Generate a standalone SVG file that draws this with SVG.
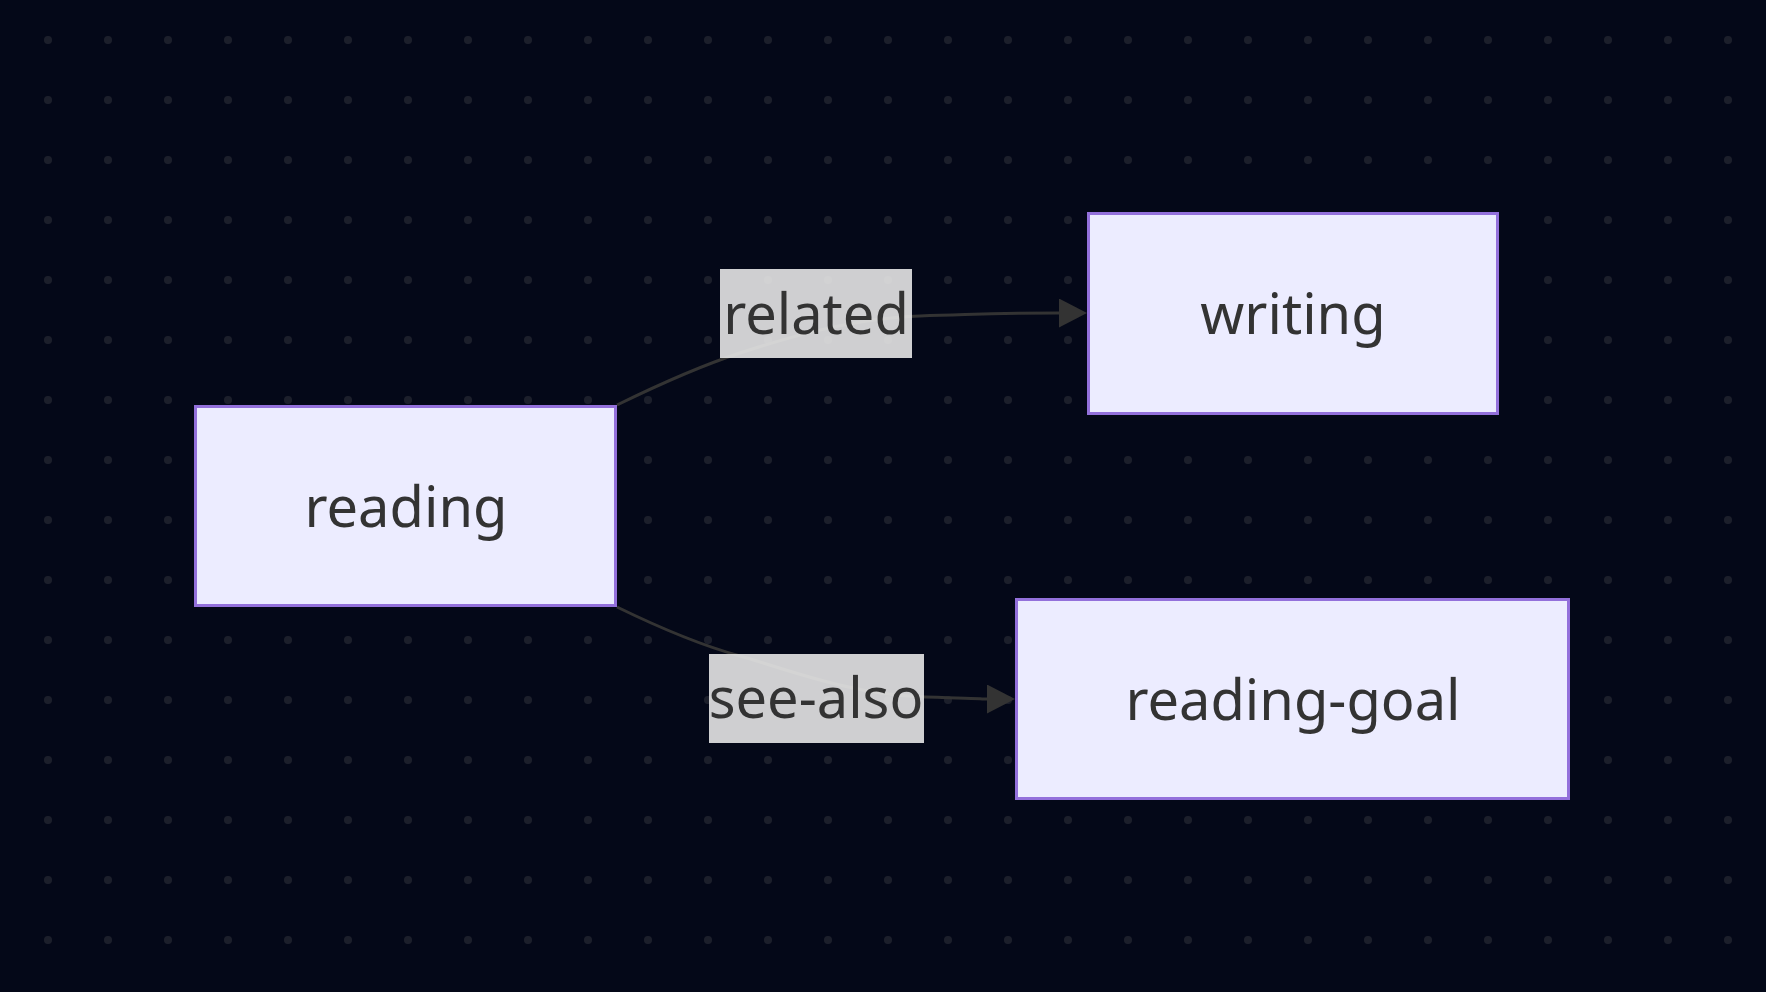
<svg xmlns="http://www.w3.org/2000/svg" width="1766" height="992" viewBox="0 0 1766 992">
<style>
.node rect{fill:#ECECFF;stroke:#9370DB;stroke-width:3}
.node text,.label text{font-family:"Noto Sans","Open Sans","DejaVu Sans",sans-serif;font-size:56px;fill:#333333;text-anchor:middle}
.edge{fill:none;stroke:#333333;stroke-width:3}
.label rect{fill:rgba(232,232,232,0.89)}
</style>
<defs>
<pattern id="dots" x="18" y="10" width="60" height="60" patternUnits="userSpaceOnUse">
<circle cx="30" cy="30" r="4" fill="#1c1f2b"/>
</pattern>
<marker id="arrow" markerUnits="userSpaceOnUse" markerWidth="30" markerHeight="30" refX="0" refY="14.5" orient="auto" viewBox="0 0 30 30">
<path d="M0,0 L28,14.5 L0,29 z" fill="#333333"/>
</marker>
</defs>
<rect width="1766" height="992" fill="#040818"/>
<rect width="1766" height="992" fill="url(#dots)"/>
<g id="connectors">
<path class="edge" d="M617,405 C660,384 700,366 740,353 S850,318 920,316 S1000,313 1059,313" marker-end="url(#arrow)"/>
<path class="edge" d="M617,607 C660,628 700,645 740,656 S850,695 925,697 S975,699 987,699" marker-end="url(#arrow)"/>
</g>
<g id="label-related" class="label">
<rect x="720" y="269" width="192" height="89"/>
<text x="816" y="334">related</text>
</g>
<g id="label-see-also" class="label">
<rect x="709" y="654" width="215" height="89"/>
<text x="816" y="718">see-also</text>
</g>
<g id="node-reading" class="node">
<rect x="195.5" y="406.5" width="420" height="199"/>
<text x="406" y="527">reading</text>
</g>
<g id="node-writing" class="node">
<rect x="1088.5" y="213.5" width="409" height="200"/>
<text x="1293" y="334">writing</text>
</g>
<g id="node-reading-goal" class="node">
<rect x="1016.5" y="599.5" width="552" height="199"/>
<text x="1293" y="720">reading-goal</text>
</g>
</svg>
